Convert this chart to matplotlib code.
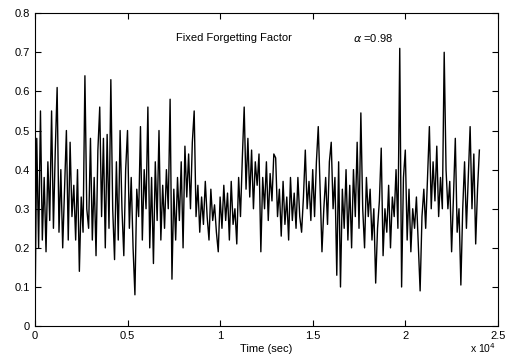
import numpy as np
import matplotlib
matplotlib.use("Agg")
import matplotlib.pyplot as plt

# Sample spacing of the trace (sec)
step = 100

# Forgetting-factor estimate, one row per 1000 sec
vals = [
    0.00, 0.48, 0.20, 0.55, 0.22, 0.38, 0.19, 0.42, 0.27, 0.55,
    0.25, 0.45, 0.61, 0.24, 0.40, 0.20, 0.35, 0.50, 0.22, 0.47,
    0.28, 0.36, 0.22, 0.40, 0.14, 0.33, 0.24, 0.64, 0.30, 0.25,
    0.48, 0.22, 0.38, 0.18, 0.45, 0.56, 0.28, 0.48, 0.20, 0.49,
    0.25, 0.63, 0.30, 0.17, 0.42, 0.22, 0.50, 0.30, 0.18, 0.40,
    0.50, 0.25, 0.38, 0.20, 0.08, 0.35, 0.28, 0.51, 0.22, 0.40,
    0.30, 0.56, 0.20, 0.38, 0.16, 0.42, 0.27, 0.50, 0.22, 0.36,
    0.25, 0.40, 0.30, 0.58, 0.12, 0.35, 0.22, 0.38, 0.27, 0.42,
    0.20, 0.46, 0.33, 0.44, 0.30, 0.47, 0.55, 0.28, 0.36, 0.24,
    0.33, 0.26, 0.37, 0.28, 0.22, 0.35, 0.27, 0.31, 0.24, 0.19,
    0.33, 0.25, 0.36, 0.27, 0.34, 0.22, 0.37, 0.26, 0.30, 0.21,
    0.38, 0.28, 0.43, 0.56, 0.35, 0.48, 0.33, 0.45, 0.30, 0.42,
    0.36, 0.44, 0.19, 0.38, 0.30, 0.42, 0.27, 0.39, 0.32, 0.44,
    0.43, 0.28, 0.35, 0.23, 0.37, 0.26, 0.33, 0.22, 0.38, 0.27,
    0.34, 0.25, 0.38, 0.28, 0.24, 0.33, 0.45, 0.30, 0.37, 0.27,
    0.40, 0.28, 0.42, 0.51, 0.35, 0.19, 0.30, 0.38, 0.26, 0.42,
    0.47, 0.30, 0.38, 0.13, 0.42, 0.10, 0.35, 0.25, 0.40, 0.22,
    0.36, 0.20, 0.40, 0.28, 0.47, 0.25, 0.545, 0.30, 0.20, 0.38,
    0.28, 0.35, 0.22, 0.30, 0.11, 0.25, 0.32, 0.455, 0.18, 0.30,
    0.24, 0.36, 0.20, 0.33, 0.28, 0.40, 0.25, 0.71, 0.10, 0.38,
    0.45, 0.22, 0.35, 0.19, 0.30, 0.25, 0.33, 0.21, 0.09, 0.28,
    0.35, 0.25, 0.38, 0.51, 0.30, 0.42, 0.32, 0.46, 0.28, 0.38,
    0.30, 0.70, 0.40, 0.30, 0.37, 0.19, 0.33, 0.48, 0.24, 0.30,
    0.105, 0.30, 0.42, 0.25, 0.38, 0.51, 0.30, 0.44, 0.21, 0.35,
    0.45,
]
t = np.arange(len(vals)) * step

xticks = [0, 5000, 10000, 15000, 20000, 25000]
xtick_labels = ["0", "0.5", "1", "1.5", "2", "2.5"]
yticks = [0, 0.1, 0.2, 0.3, 0.4, 0.5, 0.6, 0.7, 0.8]

plt.rcParams["font.family"] = ["Liberation Sans", "DejaVu Sans"]

fig = plt.figure(figsize=(5.06, 3.56), dpi=100)
ax = fig.add_axes([0.069, 0.084, 0.915, 0.879])

ax.plot(t, vals, color="black", linewidth=1.0)

ax.set_xlim(0, 25000)
ax.set_ylim(0, 0.8)
ax.set_xticks(xticks)
ax.set_xticklabels(xtick_labels)
ax.set_yticks(yticks)
ax.set_yticklabels([f"{v:g}" for v in yticks])
ax.tick_params(direction="in", top=True, right=True, labelsize=8, length=4, width=0.8)
for s in ax.spines.values():
    s.set_linewidth(0.8)

ax.set_xlabel("Time (sec)", fontsize=8, labelpad=2)
ax.text(7600, 0.737, "Fixed Forgetting Factor", fontsize=8, va="center")
ax.text(17150, 0.737, r"$\alpha$ =0.98", fontsize=8, va="center")
fig.text(0.928, 0.004, r"x 10$^4$", fontsize=7.5, va="bottom")

fig.savefig("out.png", dpi=100)
